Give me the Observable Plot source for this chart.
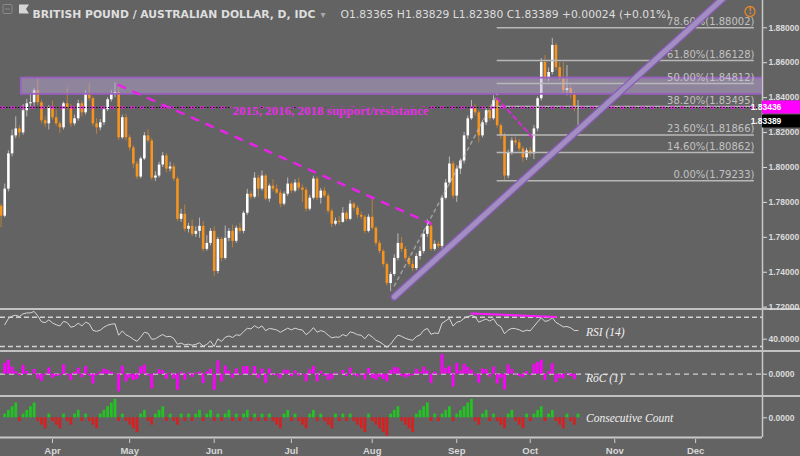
<!DOCTYPE html>
<html><head><meta charset="utf-8">
<script src="https://cdn.jsdelivr.net/npm/d3@7"></script>
<script src="https://cdn.jsdelivr.net/npm/@observablehq/plot@0.6"></script>
<style>
html,body{margin:0;padding:0;background:#636363;width:800px;height:456px;overflow:hidden}
.sep{border-top:2px solid #c2c2c2}
svg{display:block}
</style></head><body>
<div id="main"></div><div id="rsi" class="sep"></div><div id="roc" class="sep"></div><div id="cc" class="sep"></div><div id="xax"></div>
<script>
// ---------------- DATA ----------------
const titleText = "BRITISH POUND / AUSTRALIAN DOLLAR, D, IDC";
const ohlcText = "O1.83365 H1.83829 L1.82380 C1.83389 +0.00024 (+0.01%)";
const firstDate = "2018-03-13", lastAxisDate = "2019-01-01";

const opens = [1.7778,1.7721,1.7876,1.8078,1.8181,1.8221,1.8198,1.8325,1.8365,1.8371,
1.8440,1.8371,1.8267,1.8250,1.8342,1.8285,1.8250,1.8227,1.8365,1.8342,
1.8250,1.8279,1.8365,1.8313,1.8423,1.8394,1.8250,1.8227,1.8256,1.8331,
1.8388,1.8417,1.8429,1.8170,1.8285,1.8170,1.8112,1.8020,1.7945,1.8049,
1.8181,1.8152,1.7939,1.7951,1.8014,1.8066,1.7991,1.8003,1.7934,1.7703,
1.7732,1.7646,1.7663,1.7617,1.7634,1.7663,1.7531,1.7565,1.7634,1.7404,
1.7588,1.7479,1.7594,1.7634,1.7577,1.7652,1.7634,1.7738,1.7847,1.7830,
1.7939,1.7876,1.7951,1.7819,1.7893,1.7876,1.7853,1.7790,1.7847,1.7905,
1.7865,1.7911,1.7882,1.7870,1.7761,1.7824,1.7934,1.7824,1.7865,1.7836,
1.7749,1.7675,1.7692,1.7686,1.7738,1.7703,1.7790,1.7767,1.7726,1.7715,
1.7634,1.7715,1.7652,1.7565,1.7519,1.7444,1.7335,1.7387,1.7479,1.7565,
1.7531,1.7479,1.7444,1.7421,1.7490,1.7519,1.7617,1.7663,1.7531,1.7560,
1.7548,1.7824,1.7911,1.8020,1.7836,1.7991,1.8037,1.8181,1.8279,1.8337,
1.8313,1.8181,1.8256,1.8325,1.8279,1.8383,1.8239,1.8181,1.7951,1.8083,
1.8152,1.8141,1.8106,1.8055,1.8095,1.8078,1.8221,1.8394,1.8601,1.8509,
1.8544,1.8699,1.8572,1.8509,1.8440,1.8452,1.8417,1.83365];

const closes = [1.7721,1.7876,1.8078,1.8181,1.8221,1.8198,1.8325,1.8365,1.8371,1.8440,
1.8371,1.8267,1.8250,1.8342,1.8285,1.8250,1.8227,1.8365,1.8342,1.8250,
1.8279,1.8365,1.8313,1.8423,1.8394,1.8250,1.8227,1.8256,1.8331,1.8388,
1.8417,1.8429,1.8170,1.8285,1.8170,1.8112,1.8020,1.7945,1.8049,1.8181,
1.8152,1.7939,1.7951,1.8014,1.8066,1.7991,1.8003,1.7934,1.7703,1.7732,
1.7646,1.7663,1.7617,1.7634,1.7663,1.7531,1.7565,1.7634,1.7404,1.7588,
1.7479,1.7594,1.7634,1.7577,1.7652,1.7634,1.7738,1.7847,1.7830,1.7939,
1.7876,1.7951,1.7819,1.7893,1.7876,1.7853,1.7790,1.7847,1.7905,1.7865,
1.7911,1.7882,1.7870,1.7761,1.7824,1.7934,1.7824,1.7865,1.7836,1.7749,
1.7675,1.7692,1.7686,1.7738,1.7703,1.7790,1.7767,1.7726,1.7715,1.7634,
1.7715,1.7652,1.7565,1.7519,1.7444,1.7335,1.7387,1.7479,1.7565,1.7531,
1.7479,1.7444,1.7421,1.7490,1.7519,1.7617,1.7663,1.7531,1.7560,1.7548,
1.7824,1.7911,1.8020,1.7836,1.7991,1.8037,1.8181,1.8279,1.8337,1.8313,
1.8181,1.8256,1.8325,1.8279,1.8383,1.8239,1.8181,1.7951,1.8083,1.8152,
1.8141,1.8106,1.8055,1.8095,1.8078,1.8221,1.8394,1.8601,1.8509,1.8544,
1.8699,1.8572,1.8509,1.8440,1.8452,1.8417,1.83365,1.83389];

const highs = [1.7790,1.7905,1.8095,1.8215,1.8290,1.8240,1.8360,1.8390,1.8420,1.8452,
1.8509,1.8385,1.8290,1.8355,1.8380,1.8330,1.8262,1.8375,1.8457,1.8360,
1.8300,1.8385,1.8380,1.8440,1.8480,1.8405,1.8280,1.8275,1.8345,1.8400,
1.8440,1.8485,1.8470,1.8300,1.8305,1.8185,1.8125,1.8035,1.8060,1.8200,
1.8215,1.8165,1.7975,1.8030,1.8085,1.8078,1.8030,1.8020,1.7945,1.7760,
1.7785,1.7680,1.7700,1.7660,1.7710,1.7690,1.7610,1.7650,1.7660,1.7600,
1.7600,1.7665,1.7650,1.7670,1.7665,1.7680,1.7750,1.7875,1.7862,1.7970,
1.7955,1.7980,1.7962,1.7905,1.7930,1.7900,1.7870,1.7860,1.7940,1.7915,
1.7930,1.7940,1.7900,1.7885,1.7840,1.7950,1.7945,1.7880,1.7885,1.7850,
1.7760,1.7710,1.7720,1.7770,1.7750,1.7810,1.7800,1.7780,1.7745,1.7725,
1.7730,1.7824,1.7660,1.7580,1.7530,1.7455,1.7400,1.7500,1.7620,1.7600,
1.7545,1.7490,1.7470,1.7505,1.7545,1.7640,1.7700,1.7680,1.7580,1.7575,
1.7840,1.7930,1.8060,1.8035,1.8010,1.8050,1.8200,1.8295,1.8383,1.8360,
1.8325,1.8270,1.8345,1.8350,1.8411,1.8395,1.8250,1.8195,1.8100,1.8170,
1.8175,1.8160,1.8120,1.8110,1.8115,1.8240,1.8405,1.8624,1.8641,1.8570,
1.8739,1.8711,1.8600,1.8601,1.8584,1.8470,1.8430,1.83829];

const lows = [1.7655,1.7712,1.7860,1.8060,1.8165,1.8170,1.8185,1.8290,1.8335,1.8350,
1.8355,1.8250,1.8230,1.8215,1.8270,1.8235,1.8195,1.8215,1.8330,1.8230,
1.8238,1.8265,1.8290,1.8300,1.8380,1.8235,1.8190,1.8210,1.8240,1.8320,
1.8375,1.8400,1.8155,1.8160,1.8150,1.8095,1.7995,1.7930,1.7935,1.8040,
1.8140,1.7925,1.7920,1.7940,1.8000,1.7970,1.7975,1.7920,1.7690,1.7685,
1.7630,1.7625,1.7605,1.7600,1.7595,1.7515,1.7520,1.7550,1.7375,1.7390,
1.7460,1.7470,1.7575,1.7540,1.7565,1.7620,1.7620,1.7725,1.7815,1.7820,
1.7830,1.7865,1.7810,1.7800,1.7860,1.7845,1.7770,1.7780,1.7835,1.7850,
1.7855,1.7865,1.7800,1.7745,1.7750,1.7815,1.7810,1.7790,1.7825,1.7735,
1.7655,1.7665,1.7670,1.7680,1.7690,1.7695,1.7750,1.7710,1.7700,1.7620,
1.7625,1.7640,1.7550,1.7505,1.7430,1.7320,1.7289,1.7375,1.7465,1.7515,
1.7465,1.7430,1.7404,1.7410,1.7470,1.7505,1.7600,1.7520,1.7520,1.7535,
1.7530,1.7815,1.7900,1.7820,1.7800,1.7960,1.8020,1.8160,1.8270,1.8295,
1.8141,1.8170,1.8240,1.8265,1.8270,1.8225,1.8160,1.7923,1.7935,1.8070,
1.8125,1.8090,1.8030,1.8040,1.8060,1.8045,1.8205,1.8380,1.8495,1.8490,
1.8530,1.8555,1.8495,1.8425,1.8410,1.8395,1.8320,1.82380];

const priceTicks = [1.72,1.74,1.76,1.78,1.80,1.82,1.84,1.86,1.88];
const monthLabels = ["Apr","May","Jun","Jul","Aug","Sep","Oct","Nov","Dec"];

const fibPct = ["78.60%","61.80%","50.00%","38.20%","23.60%","14.60%","0.00%"];
const fibVal = [1.88002,1.86128,1.84812,1.83495,1.81866,1.80862,1.79233];
const fibFrom = "2018-09-18", fibTo = "2018-12-25";

const zoneFrom = "2018-03-20";
const zoneLo = 1.8419, zoneHi = 1.8512;

const supportLevel = 1.83436;
const supportLabel = "2015, 2016, 2018 support/resistance";
const supportLabelFrom = "2018-06-08";
const lastClose = 1.83389;

const downTrend = [{date:"2018-04-26", v:1.8472},{date:"2018-08-23", v:1.7678}];
const septTrend = [{date:"2018-09-18", v:1.8396},{date:"2018-10-02", v:1.8163}];
const greyTrend = [{date:"2018-08-09", v:1.7322},{date:"2018-09-18", v:1.8417}];
const upChannel = [{date:"2018-08-09", v:1.7259},{date:"2018-12-18", v:1.9036}];

const rsiLevels = [70,30];
const rsiAxisTicks = [40];
const rsiDivergence = [{date:"2018-09-07", v:75.1},{date:"2018-10-10", v:70.4}];

// ---------------- HELPERS ----------------
const fmt = d3.utcFormat("%Y-%m-%d");
const tradingDays = d3.utcDay.range(new Date(firstDate), new Date(lastAxisDate)).filter(d => d.getUTCDay() % 6 !== 0);
const dayIndex = new Map(tradingDays.map((d,i)=>[fmt(d), i]));
const idx = s => dayIndex.get(s);
const monthIdx = [];
tradingDays.forEach((d,i)=>{ if (i>0 && d.getUTCMonth() !== tradingDays[i-1].getUTCMonth()) monthIdx.push(i); });

const candles = closes.map((c,i)=>({i, o:opens[i], h:highs[i], l:lows[i], c}));
const upC = candles.filter(d=>d.c>=d.o), dnC = candles.filter(d=>d.c<d.o);
const lastIdx = candles.length-1;

// indicators derived from closes
const roc = candles.slice(1).map(d=>({i:d.i, v:(d.c/closes[d.i-1]-1)*100}));
const cc = []; let run = 0;
for (let k=1;k<closes.length;k++){
  if (closes[k]>closes[k-1]) run = run>0 ? run+1 : 1;
  else if (closes[k]<closes[k-1]) run = run<0 ? run-1 : -1;
  else run = 0;
  cc.push({i:k, v:run});
}
const rsi = []; let ag = 0.0025, al = 0.0025;
for (let k=1;k<closes.length;k++){
  const ch = closes[k]-closes[k-1];
  ag = (ag*13 + Math.max(ch,0))/14; al = (al*13 + Math.max(-ch,0))/14;
  rsi.push({i:k, v: 100 - 100/(1+ag/al)});
}

// ---------------- STYLE ----------------
const BG = "#636363", UP = "#ffffff", DOWN = "#f7941d", AXIS = "#dcdcdc", LINE = "#c8c8c8", MAG = "#ff1aff";
const xDomain = [-0.15, 207.2];
const baseStyle = {background:"transparent", color:AXIS, fontFamily:"'Liberation Sans', Arial, sans-serif", fontSize:"8.5px", fontWeight:"bold", overflow:"visible"};
const common = {width:800, marginLeft:0, marginRight:38, marginTop:0, marginBottom:0, x:{domain:xDomain, axis:null}, style:baseStyle};
const rightEdge = () => Plot.ruleX([xDomain[1]], {stroke:LINE, strokeWidth:1.5});
const rightAxis = (ticks, digits) => Plot.axisY(ticks, {anchor:"right", label:null, tickFormat:d=>d.toFixed(digits), tickSize:4, tickPadding:2});
const bodyEnd = d => Math.abs(d.c-d.o) < 0.0004 ? d.o + (d.c>=d.o ? 0.0004 : -0.0004) : d.c;
const labelFont = {fontFamily:"'Liberation Serif', serif", fontStyle:"italic", fontWeight:"normal", fontSize:11.5, fill:"#f0f0f0"};

// ---------------- MAIN PANEL ----------------
const main = Plot.plot({
  ...common, height:308,
  y:{domain:[1.71923,1.89564], axis:null},
  marks:[
    Plot.ruleX(upC, {x:"i", y1:"l", y2:"h", stroke:UP, strokeOpacity:0.55, strokeWidth:1}),
    Plot.ruleX(dnC, {x:"i", y1:"l", y2:"h", stroke:DOWN, strokeOpacity:0.6, strokeWidth:1}),
    Plot.ruleX(upC, {x:"i", y1:"o", y2:bodyEnd, stroke:UP, strokeWidth:2.6}),
    Plot.ruleX(dnC, {x:"i", y1:"o", y2:bodyEnd, stroke:DOWN, strokeWidth:2.6}),
    Plot.rect([{lo:zoneLo, hi:zoneHi}], {x1:()=>idx(zoneFrom)+0.5, x2:()=>xDomain[1], y1:"lo", y2:"hi", fill:"#b9a8d8", fillOpacity:0.5, stroke:"#9b5fc4", strokeWidth:1.8}),
    Plot.ruleY(fibVal, {y:d=>d, x1:()=>idx(fibFrom), x2:()=>idx(fibTo), stroke:"#b8b8b8", strokeWidth:1.5}),
    Plot.text(fibVal, {x:()=>idx(fibTo), y:d=>d, text:(d,k)=>`${fibPct[k]}(${d.toFixed(5)})`, textAnchor:"end", lineAnchor:"middle", dy:-6, fill:"#c2c2c2", fontFamily:"'DejaVu Sans', sans-serif", fontWeight:"normal", fontSize:10}),
    Plot.ruleY([supportLevel], {y:d=>d, stroke:MAG, strokeWidth:2, strokeDasharray:"5,5"}),
    Plot.ruleY([supportLevel], {y:d=>d, stroke:"#111111", strokeWidth:1, strokeDasharray:"1.5,1.5"}),
    Plot.text([supportLabel], {x:()=>idx(supportLabelFrom), y:()=>supportLevel, text:d=>d, dy:3, textAnchor:"start", lineAnchor:"middle", fill:"#e62ee6", stroke:BG, strokeWidth:5, fontFamily:"'Liberation Serif', serif", fontWeight:"bold", fontSize:13}),
    Plot.line(downTrend, {x:d=>idx(d.date), y:"v", stroke:"#e822e8", strokeWidth:2.5, strokeDasharray:"7,9"}),
    Plot.line(septTrend, {x:d=>idx(d.date), y:"v", stroke:"#d62ad6", strokeWidth:2, strokeDasharray:"4,4"}),
    Plot.line(greyTrend, {x:d=>idx(d.date), y:"v", stroke:"#c8c8c8", strokeOpacity:0.6, strokeWidth:1.5, strokeDasharray:"3,4"}),
    Plot.line(upChannel, {x:d=>idx(d.date), y:"v", stroke:"#8c5ab8", strokeWidth:7.5, clip:true}),
    Plot.line(upChannel, {x:d=>idx(d.date), y:"v", stroke:"#a08fc0", strokeWidth:5, clip:true}),
    rightAxis(priceTicks, 5),
    rightEdge(),
    Plot.text([titleText], {frameAnchor:"top-left", text:d=>d, dx:32, dy:14, textAnchor:"start", lineAnchor:"middle", fill:"#dedede", fontFamily:"'DejaVu Sans', sans-serif", fontWeight:"bold", fontSize:10.8}),
    Plot.text(["▾"], {frameAnchor:"top-left", text:d=>d, dx:320, dy:14, textAnchor:"start", lineAnchor:"middle", fill:"#a8a8a8", fontFamily:"'DejaVu Sans', sans-serif", fontWeight:"normal", fontSize:10}),
    Plot.text([ohlcText], {frameAnchor:"top-left", text:d=>d, dx:340, dy:14, textAnchor:"start", lineAnchor:"middle", fill:"#dedede", fontFamily:"'DejaVu Sans', sans-serif", fontWeight:"normal", fontSize:10.75})
  ]
});
document.getElementById("main").appendChild(main);

// decorations & price tags on main
{
  const svg = d3.select(main);
  const ys = main.scale("y");
  const yAt = v => ys.apply ? ys.apply(v) : d3.scaleLinear(ys.domain, ys.range)(v);
  svg.append("rect").attr("x",3).attr("y",4.5).attr("width",9).attr("height",9).attr("rx",1).attr("fill","none").attr("stroke","#8a8a8a");
  svg.append("line").attr("x1",5).attr("x2",10).attr("y1",9).attr("y2",9).attr("stroke","#8a8a8a");
  svg.append("path").attr("d","M19,4.5 h10 l-3,4.5 l3,4.5 h-10 z").attr("fill","#d6d6d6");
  svg.append("circle").attr("cx",750).attr("cy",11.5).attr("r",5).attr("fill","none").attr("stroke","#e3862c").attr("stroke-width",1.3);
  svg.append("text").attr("x",750).attr("y",11.5).attr("dy","0.35em").attr("text-anchor","middle").attr("fill","#e3862c").attr("font-size",8).attr("font-family","DejaVu Sans").attr("font-weight","bold").text("!");
  const ySup = yAt(supportLevel);
  const tags = [{v:supportLevel, y:ySup, fill:"#ff00ff"}, {v:lastClose, y:ySup+14, fill:"#000000"}];
  for (const t of tags) {
    svg.append("rect").attr("x",762).attr("y",t.y-6.5).attr("width",38).attr("height",13).attr("fill",t.fill);
    svg.append("text").attr("x",766).attr("y",t.y).attr("dy","0.35em").attr("fill","#ffffff").attr("font-size",8.5).attr("font-weight","bold").attr("font-family","Liberation Sans").text(t.v.toFixed(5));
  }
}

// ---------------- RSI ----------------
document.getElementById("rsi").appendChild(Plot.plot({
  ...common, height:40,
  y:{domain:[24.54,79.15], axis:null},
  marks:[
    Plot.ruleY(rsiLevels, {y:d=>d, stroke:"#d2d2d2", strokeWidth:1.5, strokeDasharray:"5,3"}),
    Plot.line(rsi, {x:"i", y:"v", stroke:"#d6d6d6", strokeWidth:1}),
    Plot.line(rsiDivergence, {x:d=>idx(d.date), y:"v", stroke:MAG, strokeWidth:2}),
    Plot.text(["RSI (14)"], {x:()=>lastIdx, text:d=>d, frameAnchor:"middle", dx:8, dy:2, textAnchor:"start", ...labelFont}),
    rightAxis(rsiAxisTicks, 4),
    rightEdge()
  ]
}));

// ---------------- RoC ----------------
document.getElementById("roc").appendChild(Plot.plot({
  ...common, height:43,
  y:{domain:[-1.704,1.736], axis:null},
  marks:[
    Plot.ruleY([0], {y:d=>d, stroke:"#d2d2d2", strokeWidth:1.2, strokeDasharray:"5,4"}),
    Plot.ruleX(roc, {x:"i", y1:()=>0, y2:"v", stroke:"#ff00ff", strokeWidth:2.8}),
    Plot.text(["RoC (1)"], {x:()=>lastIdx, text:d=>d, frameAnchor:"middle", dx:8, dy:4, textAnchor:"start", ...labelFont}),
    rightAxis([0], 4),
    rightEdge()
  ]
}));

// ---------------- Consecutive count ----------------
document.getElementById("cc").appendChild(Plot.plot({
  ...common, height:42, marginBottom:2,
  y:{domain:[-5.32,5.49], axis:null},
  marks:[
    Plot.ruleX(cc.filter(d=>d.v>0), {x:"i", y1:()=>0, y2:"v", stroke:"#22c322", strokeWidth:2.8}),
    Plot.ruleX(cc.filter(d=>d.v<0), {x:"i", y1:()=>0, y2:"v", stroke:"#d32222", strokeWidth:2.8}),
    Plot.text(["Consecutive Count"], {x:()=>lastIdx, text:d=>d, frameAnchor:"middle", dx:8, dy:1, textAnchor:"start", ...labelFont}),
    rightAxis([0], 4),
    Plot.ruleY([-5.32], {y:d=>d, stroke:LINE, strokeWidth:2}),
    rightEdge()
  ]
}));

// ---------------- X axis ----------------
document.getElementById("xax").appendChild(Plot.plot({
  ...common, height:17, marginBottom:13,
  marks:[
    Plot.ruleX(monthIdx, {x:d=>d, stroke:"#cfcfcf", strokeWidth:1}),
    Plot.text(monthIdx, {x:d=>d, text:(d,k)=>monthLabels[k], frameAnchor:"bottom", dy:7, lineAnchor:"middle", fill:"#d8d8d8", fontSize:9.5, fontWeight:"bold"})
  ]
}));
</script></body></html>
